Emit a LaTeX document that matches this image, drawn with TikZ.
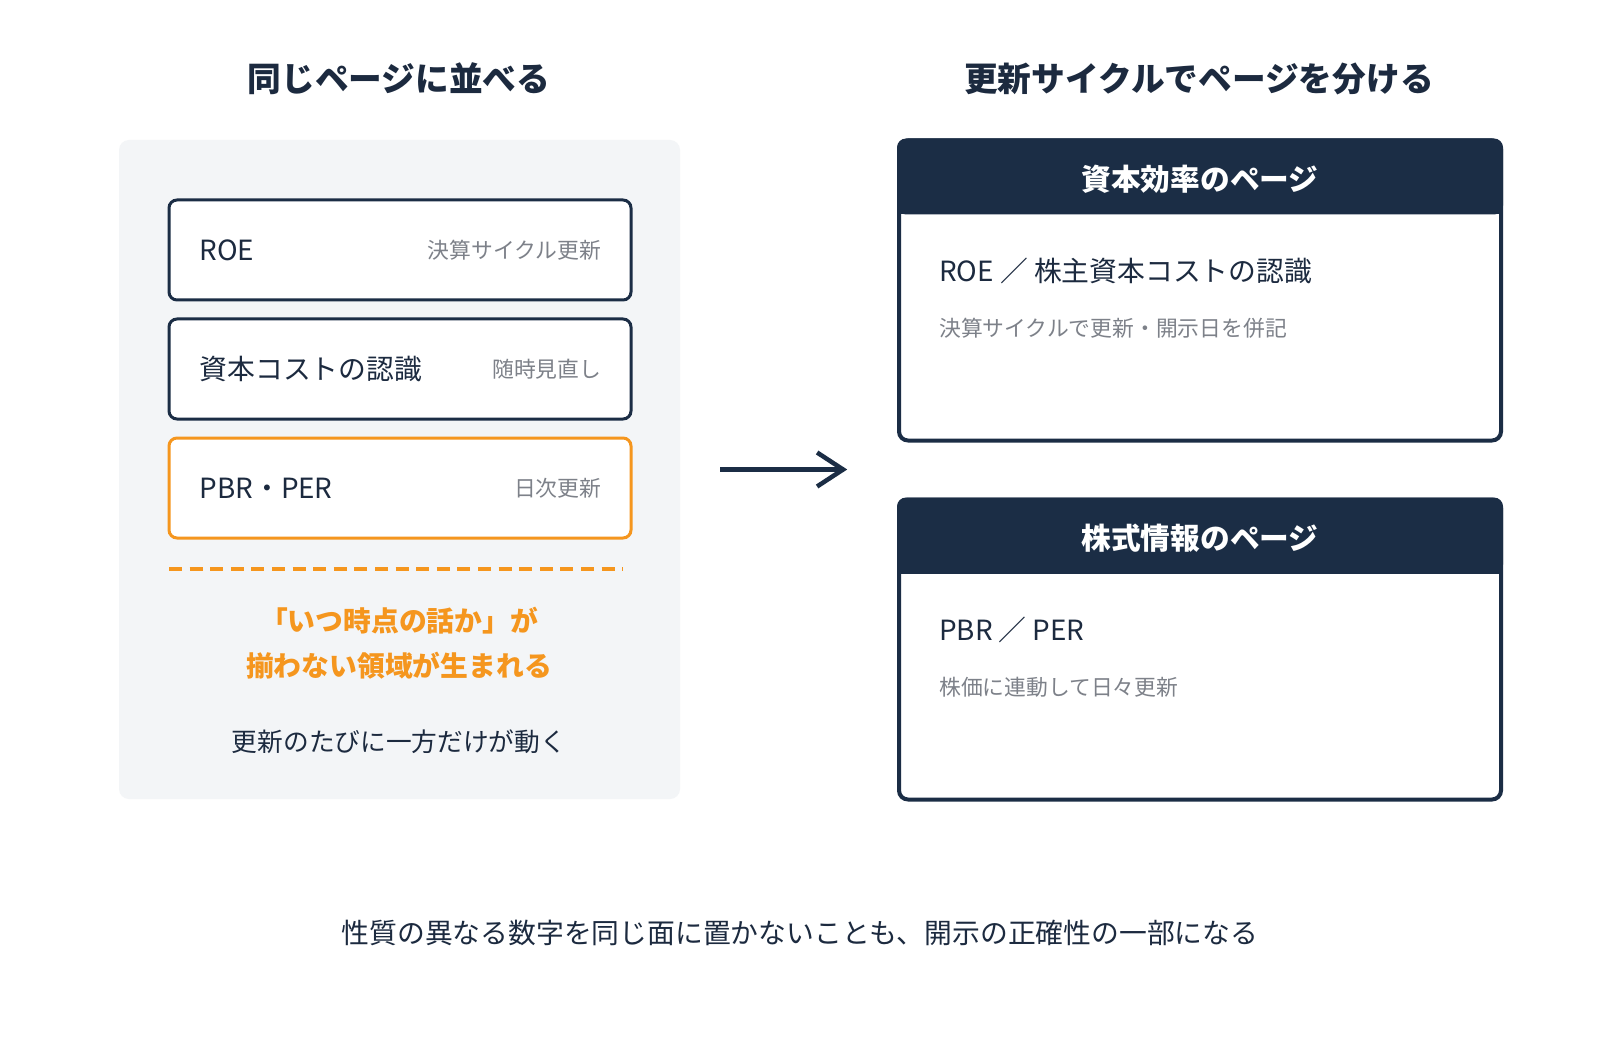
\documentclass[tikz,border=0pt]{standalone}
\usepackage{fontspec}
\setmainfont{Noto Sans CJK JP}
\usepackage{tikz}
\usetikzlibrary{arrows.meta, positioning}
\definecolor{navy}{HTML}{1B2D45}
\definecolor{ink}{HTML}{1C2A3F}
\definecolor{accent}{HTML}{F5961E}
\definecolor{muted}{HTML}{7D8189}
\definecolor{panelbg}{HTML}{F3F5F7}
\newcommand*{\sz}[1]{\fontsize{#1}{#1}\selectfont}
\tikzstyle{item} = [draw=navy, fill=white, line width=3pt, rectangle, rounded corners=8pt, minimum width=462pt, minimum height=100pt, inner sep=0pt]
\tikzstyle{hot} = [item, draw=accent]
\tikzstyle{page} = [draw=navy, fill=white, line width=4pt, rectangle, rounded corners=9pt, minimum width=602pt, minimum height=300pt, inner sep=0pt]
\tikzstyle{title} = [font=\sz{33.7}\bfseries, text=ink, inner sep=0pt]
\tikzstyle{head} = [font=\sz{29.7}\bfseries, text=white, inner sep=0pt]
\tikzstyle{metric} = [font=\sz{27.8}, text=ink, inner sep=0pt]
\tikzstyle{note} = [font=\sz{21.8}, text=muted, inner sep=0pt]
\tikzstyle{flow} = [-{Straight Barb[length=26pt, width=34pt]}, line width=4.5pt, draw=navy]

\begin{document}
\begin{tikzpicture}[x=1pt, y=-1pt]
    \useasboundingbox [fill=white] (0,0) rectangle (1600,1040);

    % Left side: one page.
    \node (left title) [title] at (399,79) {同じページに並べる};
    \node (panel) [fill=panelbg, rounded corners=10pt, minimum width=561pt, minimum height=659pt, inner sep=0pt] at (399.5,469.5) {};

    \node (roe) [item] at (400,250) {};
    \node (cost) [item, below=16pt of roe] {};
    \node (pbr) [hot, below=16pt of cost] {};

    \foreach \card/\main/\cycle in {roe/ROE/決算サイクル更新, cost/資本コストの認識/随時見直し, pbr/PBR・PER/日次更新} {%
        \node (\card metric) [metric, right=32pt of \card.west] {\main};
        \node (\card cycle) [note, left=31pt of \card.east] {\cycle};
    }

    \draw [accent, line width=4pt, dash pattern=on 13pt off 7.6pt] (169,569) coordinate (dash l) -- (623,569) coordinate (dash r);
    \node (gap 1) [title, font=\sz{27.8}\bfseries, text=accent] at (399,621) {「いつ時点の話か」が};
    \node (gap 2) [title, font=\sz{27.8}\bfseries, text=accent, below=17pt of gap 1] {揃わない領域が生まれる};
    \node (drift) [metric, font=\sz{25.7}] at (399,742) {更新のたびに一方だけが動く};

    % Right side: two pages.
    \node (right title) [title] at (1199,79) {更新サイクルでページを分ける};
    \node (page a) [page] at (1200,290.5) {};
    \node (page b) [page, below=55pt of page a] {};

    \foreach \p/\head/\main/\sub in {a/資本効率のページ/ROE ／ 株主資本コストの認識/決算サイクルで更新・開示日を併記, b/株式情報のページ/PBR ／ PER/株価に連動して日々更新} {%
        \fill [navy, rounded corners=9pt] (page \p.north west) rectangle ([yshift=-76pt]page \p.north east);
        \fill [navy] ([yshift=-30pt]page \p.north west) rectangle ([yshift=-76pt]page \p.north east);
        \node (head \p) [head] at ([yshift=-41pt]page \p.north) {\head};
        \node (main \p) [metric, anchor=west] at ([xshift=42pt, yshift=-132pt]page \p.north west) {\main};
        \node (sub \p) [note, anchor=west] at ([yshift=-58pt]main \p.west) {\sub};
    }

    % Arrow.
    \coordinate (arrow tail) at ([xshift=40pt]panel.east);
    \coordinate (arrow head) at ([xshift=167pt]panel.east);
    \draw [flow] (arrow tail) -- (arrow head);

    \node (summary) [metric] at (800,933) {性質の異なる数字を同じ面に置かないことも、開示の正確性の一部になる};
\end{tikzpicture}
\end{document}
